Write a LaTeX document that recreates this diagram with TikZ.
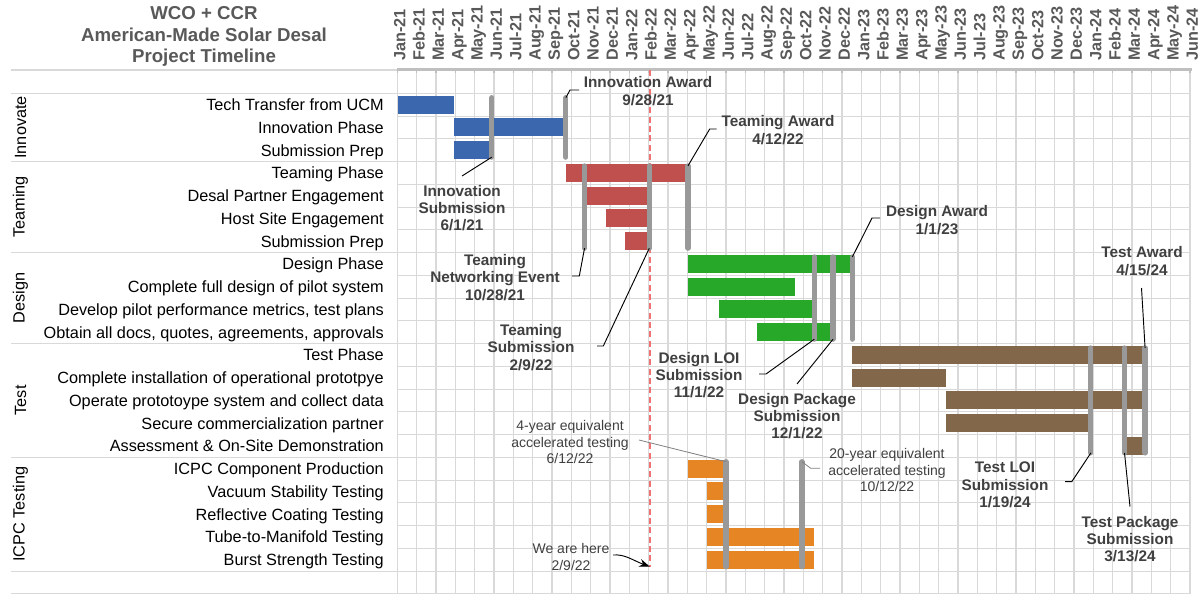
\documentclass[tikz,border=0pt]{standalone}
\usepackage{fontspec}
\setmainfont{Liberation Sans}
\usetikzlibrary{arrows.meta}
\definecolor{cblue}{HTML}{3A67AE}
\definecolor{cred}{HTML}{C0504D}
\definecolor{cgreen}{HTML}{28A828}
\definecolor{cbrown}{HTML}{83674A}
\definecolor{corange}{HTML}{E68523}
\definecolor{cgrid}{HTML}{D9D9D9}
\definecolor{caxis}{HTML}{BFBFBF}
\definecolor{cms}{HTML}{999999}
\definecolor{ctitle}{HTML}{595959}
\definecolor{ctext}{HTML}{404040}
\definecolor{cnow}{HTML}{F07272}
\newcommand{\ganttbar}[4]{\fill[#4] ({397.7+0.6228*(#2)},{104.675+22.75*(#1)-9}) rectangle ({397.7+0.6228*(#3)},{104.675+22.75*(#1)+9});}
\newcommand{\mstone}[4]{%
  \coordinate (#1t) at ({397.7+0.6228*(#2)},{104.675+22.75*(#3)-7});
  \coordinate (#1b) at ({397.7+0.6228*(#2)},{104.675+22.75*(#4)+7});
  \draw[ms] (#1t) -- (#1b);}
\begin{document}
\begin{tikzpicture}[x=0.75pt,y=-0.75pt,
  grid/.style={draw=cgrid,line width=0.8pt},
  axisline/.style={draw=caxis,line width=2.2pt},
  axistick/.style={draw=caxis,line width=1pt},
  ms/.style={draw=cms,line width=3.9pt,line cap=round},
  lead/.style={draw=black,line width=0.7pt},
  notelead/.style={draw=gray,line width=0.6pt},
  nowline/.style={draw=cnow,line width=1.1pt,dash pattern=on 4.5pt off 2.5pt},
  titletext/.style={font=\bfseries\fontsize{14}{16.2}\selectfont,text=ctitle,align=center,inner sep=0pt},
  month/.style={font=\bfseries\fontsize{12.2}{14}\selectfont,text=ctitle,rotate=90,anchor=base west,inner sep=0pt},
  rowlabel/.style={font=\fontsize{12.2}{14}\selectfont,anchor=base east,inner sep=0pt},
  grouplabel/.style={font=\fontsize{12.2}{14}\selectfont,rotate=90,inner sep=0pt},
  callout/.style={font=\bfseries\fontsize{11.5}{13}\selectfont,text=ctext,align=center,inner sep=0pt},
  note/.style={font=\fontsize{10.5}{12.2}\selectfont,text=ctext,align=center,inner sep=0pt}]
\useasboundingbox (0,0) rectangle (1201,596);
\fill[white] (0,0) rectangle (1201,596);

% grid
\foreach \k in {0,...,41} \draw[grid] ({397.3+19.333*\k},70) -- ({397.3+19.333*\k},593.8);
\foreach \k in {0,...,22} \draw[grid] (397.3,{93.3+22.75*\k}) -- (1190,{93.3+22.75*\k});
\foreach \yy in {70,93.3,161.55,252.55,343.55,457.3,571.05,593.8} \draw[grid] (11,\yy) -- (397.3,\yy);

% axis
\draw[axisline] (397.3,69.5) -- (1192,69.5);
\foreach \k in {0,...,41} \draw[axistick] ({397.3+19.333*\k},69.5) -- ({397.3+19.333*\k},73);

% month labels
\foreach \m [count=\i from 0] in {Jan-21,Feb-21,Mar-21,Apr-21,May-21,Jun-21,Jul-21,Aug-21,Sep-21,Oct-21,Nov-21,Dec-21,Jan-22,Feb-22,Mar-22,Apr-22,May-22,Jun-22,Jul-22,Aug-22,Sep-22,Oct-22,Nov-22,Dec-22,Jan-23,Feb-23,Mar-23,Apr-23,May-23,Jun-23,Jul-23,Aug-23,Sep-23,Oct-23,Nov-23,Dec-23,Jan-24,Feb-24,Mar-24,Apr-24,May-24,Jun-24}
  \node[month] (mon\i) at ({397.3+19.333*\i+8},61) {\m};

% title
\node[titletext] (title) at (204,36.5) {WCO + CCR\\American-Made Solar Desal\\Project Timeline};

% group labels
\node[grouplabel] (gInnovate) at (20.5,127.4) {Innovate};
\node[grouplabel] (gTeaming) at (20.5,207) {Teaming};
\node[grouplabel] (gDesign) at (20.5,298) {Design};
\node[grouplabel] (gTest) at (20.5,400.4) {Test};
\node[grouplabel] (gICPC) at (20.5,514.2) {ICPC Testing};

% row labels
\foreach \t [count=\i from 0] in {Tech Transfer from UCM,Innovation Phase,Submission Prep,Teaming Phase,Desal Partner Engagement,Host Site Engagement,Submission Prep,Design Phase,Complete full design of pilot system,{Develop pilot performance metrics, test plans},{Obtain all docs, quotes, agreements, approvals},Test Phase,Complete installation of operational prototpye,Operate prototoype system and collect data,Secure commercialization partner,Assessment \& On-Site Demonstration,ICPC Component Production,Vacuum Stability Testing,Reflective Coating Testing,Tube-to-Manifold Testing,Burst Strength Testing}
  \node[rowlabel] (row\i) at (384,{104.675+22.75*\i+6}) {\t};

% today line
\coordinate (nowtop) at (649.8,70);
\coordinate (now) at (649.8,566.7);
\draw[nowline] (nowtop) -- (now);

% bars
\ganttbar{0}{0}{90}{cblue}
\ganttbar{1}{90}{270}{cblue}
\ganttbar{2}{90}{151}{cblue}
\ganttbar{3}{270}{466}{cred}
\ganttbar{4}{300}{404}{cred}
\ganttbar{5}{334}{404}{cred}
\ganttbar{6}{365}{404}{cred}
\ganttbar{7}{466}{730}{cgreen}
\ganttbar{8}{466}{638}{cgreen}
\ganttbar{9}{516}{669}{cgreen}
\ganttbar{10}{577}{699}{cgreen}
\ganttbar{11}{730}{1200}{cbrown}
\ganttbar{12}{730}{881}{cbrown}
\ganttbar{13}{881}{1200}{cbrown}
\ganttbar{14}{881}{1113}{cbrown}
\ganttbar{15}{1167}{1200}{cbrown}
\ganttbar{16}{466}{527}{corange}
\ganttbar{17}{496}{527}{corange}
\ganttbar{18}{496}{527}{corange}
\ganttbar{19}{496}{669}{corange}
\ganttbar{20}{496}{669}{corange}

% milestone lines
\mstone{mIS}{151}{0}{2}
\mstone{mIA}{270}{0}{2}
\mstone{mTN}{300}{3}{6}
\mstone{mTS}{404}{3}{6}
\mstone{mTA}{466}{3}{6}
\mstone{mDL}{669}{7}{10}
\mstone{mDP}{699}{7}{10}
\mstone{mDA}{730}{7}{10}
\mstone{mTL}{1113}{11}{15}
\mstone{mTP}{1167}{11}{15}
\mstone{mTW}{1200}{11}{15}
\mstone{mFY}{527}{16}{20}
\mstone{mTY}{649}{16}{20}

% callouts
\node[callout] (cIA) at (648,91) {Innovation Award\\9/28/21};
\node[callout] (cIS) at (462,208) {Innovation\\Submission\\6/1/21};
\node[callout] (cTA) at (778,130) {Teaming Award\\4/12/22};
\node[callout] (cTN) at (495,277.5) {Teaming\\Networking Event\\10/28/21};
\node[callout] (cTS) at (531,347.5) {Teaming\\Submission\\2/9/22};
\node[callout] (cDA) at (937,220) {Design Award\\1/1/23};
\node[callout] (cTW) at (1142,261) {Test Award\\4/15/24};
\node[callout] (cDL) at (699,375) {Design LOI\\Submission\\11/1/22};
\node[callout] (cDP) at (797,416) {Design Package\\Submission\\12/1/22};
\node[callout] (cTL) at (1005,485) {Test LOI\\Submission\\1/19/24};
\node[callout] (cTP) at (1130,539) {Test Package\\Submission\\3/13/24};
\node[note] (nFY) at (570,442) {4-year equivalent\\accelerated testing\\6/12/22};
\node[note] (nTY) at (887,470) {20-year equivalent\\accelerated testing\\10/12/22};
\node[note] (nWAH) at (571,557) {We are here\\2/9/22};

% leader end points
\coordinate (lIA) at (579,90);
\coordinate (lIS) at (462,176);
\coordinate (lTA) at (716.7,129);
\coordinate (lTN) at (572,276);
\coordinate (lTS) at (597,346);
\coordinate (lDA) at (880,218);
\coordinate (lTW) at (1141.5,288);
\coordinate (lDL) at (759,374);
\coordinate (lDP) at (797,384);
\coordinate (lTL) at (1065,481.7);
\coordinate (lTP) at (1130,506.7);
\coordinate (lFY) at (639,440);
\coordinate (lTY) at (820,468.3);
\coordinate (lWAH) at (613,555);

% leaders
\draw[lead] (mIAt) -- (570,90) -- (lIA);
\draw[lead] (mISb) -- (lIS);
\draw[lead] (mTAt) -- (709.7,129) -- (lTA);
\draw[lead] (mTNb) -- (579.3,276) -- (lTN);
\draw[lead] (mTSb) -- (603.3,346) -- (lTS);
\draw[lead] (mDAt) -- (872,218) -- (lDA);
\draw[lead] (mTWt) -- (lTW);
\draw[lead] (mDLb) -- (766,374) -- (lDL);
\draw[lead] (mDPb) -- (lDP);
\draw[lead] (mTLb) -- (1071.7,481.7) -- (lTL);
\draw[lead] (mTPb) -- (lTP);
\draw[notelead] (lFY) -- (mFYt);
\draw[notelead] (mTYt) -- (810.7,468.3) -- (lTY);
\draw[lead,-{Stealth[length=8pt,width=6pt]}] (lWAH) .. controls (625,554) and (632,560) .. (now);
\end{tikzpicture}
\end{document}
